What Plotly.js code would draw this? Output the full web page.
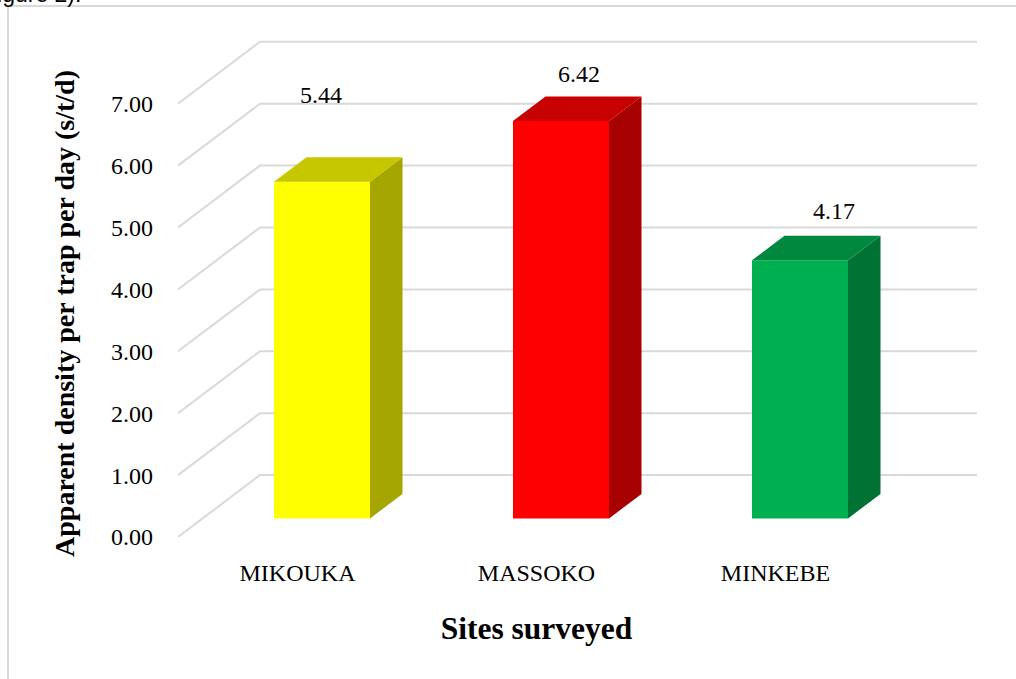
<!DOCTYPE html>
<html>
<head>
<meta charset="utf-8">
<script src="https://cdn.plot.ly/plotly-3.0.1.min.js"></script>
<style>html,body{margin:0;padding:0;background:#fff;overflow:hidden}#c{width:1016px;height:679px}</style>
</head>
<body>
<div id="c"></div>
<script>
const categories = ["MIKOUKA", "MASSOKO", "MINKEBE"];
const densities = [5.44, 6.42, 4.17];
const yTicks = [0, 1, 2, 3, 4, 5, 6, 7];
const frontColors = ["#FFFF00", "#FF0000", "#00B050"];
const topColors = ["#C7C700", "#C70000", "#00893E"];
const sideColors = ["#A6A600", "#A60000", "#007234"];
const labelShiftX = [23.5, 42.5, 58.5];
const labelShiftY = [105.5, 66, 67.5];

const serif = "Liberation Serif, Times New Roman, serif";
const gridColor = "#D9D9D9";
const catIdx = categories.map((_, i) => i);

// front plane of the chart (carries the tick labels and axis titles)
const plotW = 801, plotH = 499, frontW = 717, frontH = 447;
const xRange = [-0.5, 2.5];
const yRange = [0, frontH / 61.9];
// full drawing box, including the receding back wall
const xRangeFull = [-0.5, -0.5 + plotW / 239];
const yRangeFull = [0, plotH / 61.9];

// pseudo-3D geometry, axis units
const wallDx = 0.343, wallDy = 1.0;
const barInsetX = 0.1025, barInsetY = 0.3;
const barWidth = 0.4017;
const barDx = 0.136, barDy = 0.396;

const traces = [];

// invisible carrier for the labelled front axes
traces.push({
  type: "scatter", mode: "markers", xaxis: "x", yaxis: "y",
  x: catIdx, y: densities,
  marker: {opacity: 0, size: 1},
  hoverinfo: "skip", showlegend: false
});

// floor-to-wall gridlines
yTicks.forEach(t => {
  traces.push({
    type: "scatter", mode: "lines", xaxis: "x2", yaxis: "y2",
    x: [xRange[0], xRange[0] + wallDx, xRange[1] + wallDx],
    y: [t, t + wallDy, t + wallDy],
    line: {color: gridColor, width: 2},
    hoverinfo: "skip", showlegend: false
  });
});

// bar fronts on an overlaying pair of axes so they cover the grid
traces.push({
  type: "bar", xaxis: "x3", yaxis: "y3",
  x: catIdx.map(i => i + barInsetX),
  y: densities,
  base: densities.map(() => barInsetY),
  width: barWidth,
  marker: {color: frontColors, line: {width: 0}},
  text: categories, textposition: "none",
  hoverinfo: "text+y", showlegend: false
});

// side and top faces
densities.forEach((v, i) => {
  const l = i + barInsetX - barWidth / 2;
  const r = l + barWidth;
  const b = barInsetY;
  const t = b + v;
  traces.push({
    type: "scatter", mode: "lines", fill: "toself", xaxis: "x3", yaxis: "y3",
    x: [r, r + barDx, r + barDx, r, r],
    y: [b, b + barDy, t + barDy, t, b],
    fillcolor: sideColors[i], line: {width: 0, color: sideColors[i]},
    hoverinfo: "skip", showlegend: false
  });
  traces.push({
    type: "scatter", mode: "lines", fill: "toself", xaxis: "x3", yaxis: "y3",
    x: [l, l + barDx, r + barDx, r, l],
    y: [t, t + barDy, t + barDy, t, t],
    fillcolor: topColors[i], line: {width: 0, color: topColors[i]},
    hoverinfo: "skip", showlegend: false
  });
});

const layout = {
  width: 1016, height: 679,
  margin: {l: 178, r: 37, t: 38, b: 142},
  paper_bgcolor: "#fff", plot_bgcolor: "rgba(0,0,0,0)",
  showlegend: false,
  font: {family: serif, color: "#000"},
  xaxis: {
    domain: [0, frontW / plotW], anchor: "y",
    range: xRange, tickmode: "array", tickvals: catIdx, ticktext: categories,
    showgrid: false, zeroline: false, showline: false, ticks: "",
    ticklabelstandoff: 19,
    tickfont: {family: serif, size: 24, color: "#000"},
    title: {text: "Sites surveyed", standoff: 31, font: {family: serif, size: 31.5, color: "#000", weight: "bold"}}
  },
  yaxis: {
    domain: [0, frontH / plotH], anchor: "x",
    range: yRange, tickmode: "array", tickvals: yTicks,
    tickformat: ".2f",
    showgrid: false, zeroline: false, showline: false, ticks: "",
    ticklabelstandoff: 24,
    tickfont: {family: serif, size: 24, color: "#000"},
    title: {text: "Apparent density per trap per day (s/t/d)", standoff: 28, font: {family: serif, size: 28, color: "#000", weight: "bold"}}
  },
  xaxis2: {domain: [0, 1], anchor: "y2", range: xRangeFull, visible: false, fixedrange: true},
  yaxis2: {domain: [0, 1], anchor: "x2", range: yRangeFull, visible: false, fixedrange: true},
  xaxis3: {overlaying: "x2", anchor: "y3", range: xRangeFull, visible: false, fixedrange: true},
  yaxis3: {overlaying: "y2", anchor: "x3", range: yRangeFull, visible: false, fixedrange: true},
  annotations: densities.map((v, i) => ({
    xref: "x3", yref: "y3", x: i, y: v,
    xshift: labelShiftX[i], yshift: labelShiftY[i],
    text: v.toFixed(2), showarrow: false,
    xanchor: "center", yanchor: "middle",
    font: {family: serif, size: 24, color: "#000"}
  })).concat([{
    xref: "paper", yref: "paper", x: -178 / plotW, y: 1,
    xshift: -19, yshift: 29,
    xanchor: "left", yanchor: "bottom",
    text: "Figure 2).", showarrow: false,
    font: {family: "Liberation Sans, Arial, sans-serif", size: 23, color: "#000"}
  }]),
  shapes: [
    {type: "line", xref: "paper", yref: "paper", x0: -170/plotW, x1: 838/plotW, y0: 1 + 32/plotH, y1: 1 + 32/plotH, line: {color: gridColor, width: 2}},
    {type: "line", xref: "paper", yref: "paper", x0: -170/plotW, x1: -170/plotW, y0: 1 + 32/plotH, y1: -142/plotH, line: {color: gridColor, width: 2}}
  ]
};

Plotly.newPlot("c", traces, layout, {displayModeBar: false});
</script>
</body>
</html>
